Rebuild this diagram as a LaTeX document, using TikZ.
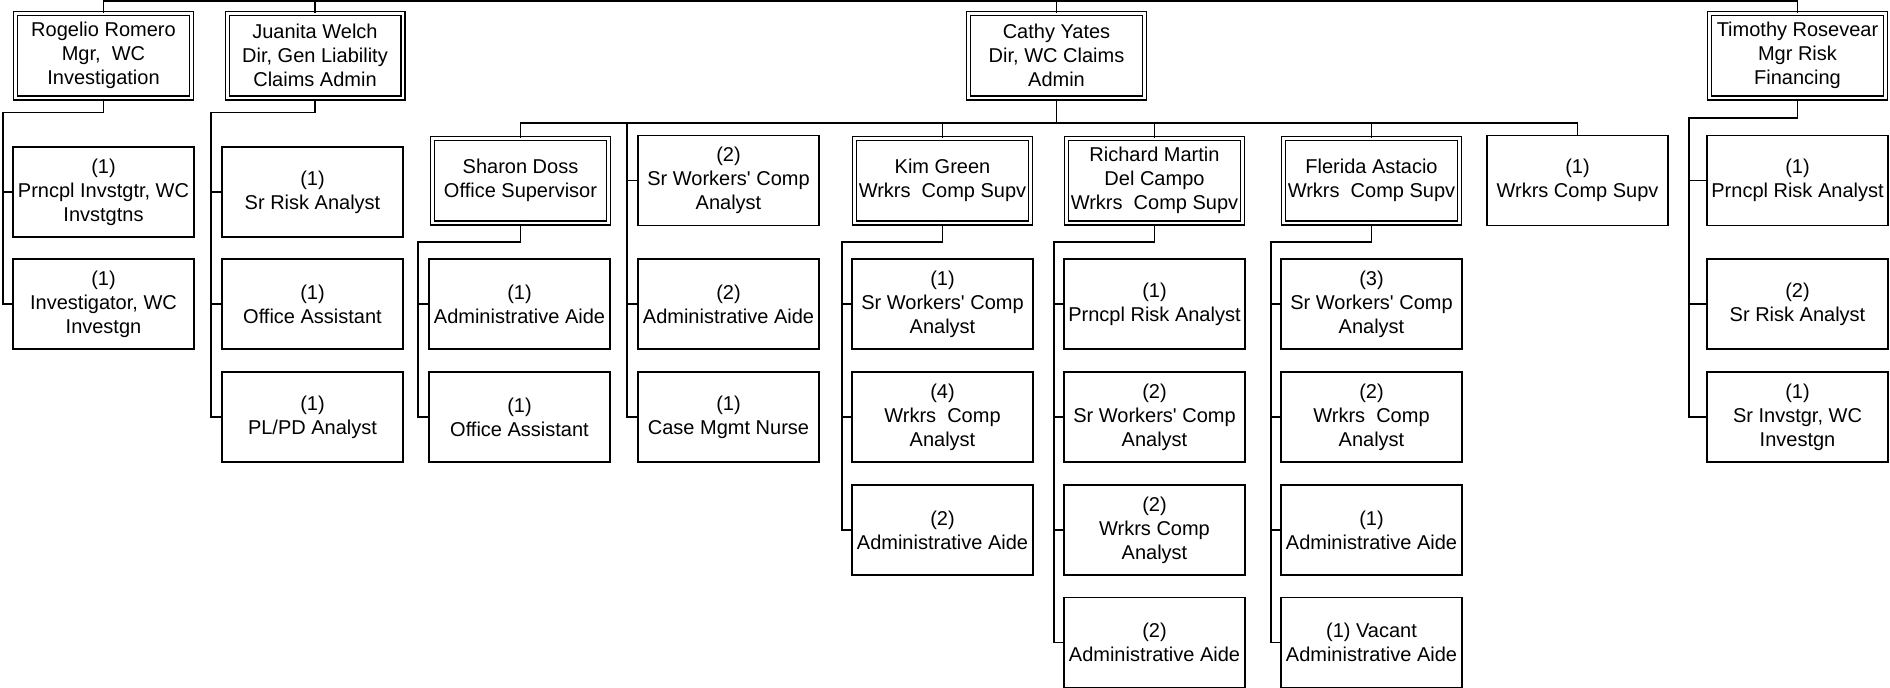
\documentclass[tikz,border=0pt]{standalone}
\usepackage{fontspec}
\setmainfont{Liberation Sans}
\tikzset{
  post/.style={draw, line width=1.6pt, minimum width=181pt, minimum height=90pt,
    inner sep=0pt, align=center, font=\fontsize{20pt}{24pt}\selectfont},
  head/.style={post, double, line width=1.2pt, double distance=2.8pt,
    minimum width=175.8pt, minimum height=84.8pt},
  link/.style={line width=1.7pt},
}
\begin{document}
\begin{tikzpicture}[x=1pt,y=-1pt]
  \fill[white] (0,0) rectangle (1890,688);
  \useasboundingbox (0,0) rectangle (1890,688);

  % level 0
  \node[head] (romero) at (103.5,55.5) {Rogelio Romero\\Mgr,~ WC\\Investigation};
  \node[head] (welch) at (315,55.5) {Juanita Welch\\Dir, Gen Liability\\Claims Admin};
  \node[head] (yates) at (1056.5,55.5) {Cathy Yates\\Dir, WC Claims\\Admin};
  \node[head] (rosevear) at (1797.5,55.5) {Timothy Rosevear\\Mgr Risk\\Financing};

  % level 1, romero
  \node[post] (romero1) at (103.5,192) {(1)\\Prncpl Invstgtr, WC\\Invstgtns};
  \node[post] (romero2) at (103.5,304) {(1)\\Investigator, WC\\Investgn};
  % level 1, welch
  \node[post] (welch1) at (312.5,192) {(1)\\Sr Risk Analyst};
  \node[post] (welch2) at (312.5,304) {(1)\\Office Assistant};
  \node[post] (welch3) at (312.5,417) {(1)\\PL/PD Analyst};
  % level 1, yates
  \node[head] (doss) at (520.5,180.5) {Sharon Doss\\Office Supervisor};
  \node[post] (yates1) at (728.5,180.5) {(2)\\Sr Workers\textquotesingle{} Comp\\Analyst};
  \node[post] (yates2) at (728.5,304) {(2)\\Administrative Aide};
  \node[post] (yates3) at (728.5,417) {(1)\\Case Mgmt Nurse};
  \node[head] (green) at (942.5,180.5) {Kim Green\\Wrkrs~ Comp Supv};
  \node[head] (martin) at (1154.5,180.5) {Richard Martin\\Del Campo\\Wrkrs~ Comp Supv};
  \node[head] (astacio) at (1371.5,180.5) {Flerida Astacio\\Wrkrs~ Comp Supv};
  \node[post] (yates4) at (1577.5,180.5) {(1)\\Wrkrs Comp Supv};
  % level 1, rosevear
  \node[post] (rosevear1) at (1797.5,180.5) {(1)\\Prncpl Risk Analyst};
  \node[post] (rosevear2) at (1797.5,304) {(2)\\Sr Risk Analyst};
  \node[post] (rosevear3) at (1797.5,417) {(1)\\Sr Invstgr, WC\\Investgn};

  % level 2, doss
  \node[post] (doss1) at (519.5,304) {(1)\\Administrative Aide};
  \node[post] (doss2) at (519.5,417) {(1)\\Office Assistant};
  % level 2, green
  \node[post] (green1) at (942.5,304) {(1)\\Sr Workers\textquotesingle{} Comp\\Analyst};
  \node[post] (green2) at (942.5,417) {(4)\\Wrkrs~ Comp\\Analyst};
  \node[post] (green3) at (942.5,530) {(2)\\Administrative Aide};
  % level 2, martin
  \node[post] (martin1) at (1154.5,304) {(1)\\Prncpl Risk Analyst};
  \node[post] (martin2) at (1154.5,417) {(2)\\Sr Workers\textquotesingle{} Comp\\Analyst};
  \node[post] (martin3) at (1154.5,530) {(2)\\Wrkrs Comp\\Analyst};
  \node[post] (martin4) at (1154.5,642.5) {(2)\\Administrative Aide};
  % level 2, astacio
  \node[post] (astacio1) at (1371.5,304) {(3)\\Sr Workers\textquotesingle{} Comp\\Analyst};
  \node[post] (astacio2) at (1371.5,417) {(2)\\Wrkrs~ Comp\\Analyst};
  \node[post] (astacio3) at (1371.5,530) {(1)\\Administrative Aide};
  \node[post] (astacio4) at (1371.5,642.5) {(1) Vacant\\Administrative Aide};

  % bus corners
  \coordinate (rail) at (0,1);
  \coordinate (romero-bus) at (3,112.5);
  \coordinate (welch-bus) at (211,112.5);
  \coordinate (rosevear-bus) at (1689,118);
  \coordinate (yates-bus) at (520.5,123);
  \coordinate (yates-col) at (627,123);
  \coordinate (doss-bus) at (418,242);
  \coordinate (green-bus) at (842,242);
  \coordinate (martin-bus) at (1054,242);
  \coordinate (astacio-bus) at (1271,242);

  % level 0
  \draw[link] (romero.north) |- (rosevear.north |- rail) -- (rosevear.north);
  \draw[link] (welch.north) -- (welch.north |- rail);
  \draw[link] (yates.north) -- (yates.north |- rail);

  % level 1
  \draw[link] (romero.south) |- (romero-bus) |- (romero2.west);
  \draw[link] (romero1.west) -- (romero1.west -| romero-bus);
  \draw[link] (welch.south) |- (welch-bus) |- (welch3.west);
  \foreach \s in {welch1,welch2}
    \draw[link] (\s.west) -- (\s.west -| welch-bus);
  \draw[link] (rosevear.south) |- (rosevear-bus) |- (rosevear3.west);
  \foreach \s in {rosevear1,rosevear2}
    \draw[link] (\s.west) -- (\s.west -| rosevear-bus);
  \draw[link] (yates.south) -- (yates.south |- yates-bus);
  \draw[link] (doss.north) |- (yates4.north |- yates-bus) -- (yates4.north);
  \foreach \s in {green,martin,astacio}
    \draw[link] (\s.north) -- (\s.north |- yates-bus);
  \draw[link] (yates-col) |- (yates3.west);
  \foreach \s in {yates1,yates2}
    \draw[link] (\s.west) -- (\s.west -| yates-col);

  % level 2
  \draw[link] (doss.south) |- (doss-bus) |- (doss2.west);
  \draw[link] (doss1.west) -- (doss1.west -| doss-bus);
  \draw[link] (green.south) |- (green-bus) |- (green3.west);
  \foreach \s in {green1,green2}
    \draw[link] (\s.west) -- (\s.west -| green-bus);
  \draw[link] (martin.south) |- (martin-bus) |- (martin4.west);
  \foreach \s in {martin1,martin2,martin3}
    \draw[link] (\s.west) -- (\s.west -| martin-bus);
  \draw[link] (astacio.south) |- (astacio-bus) |- (astacio4.west);
  \foreach \s in {astacio1,astacio2,astacio3}
    \draw[link] (\s.west) -- (\s.west -| astacio-bus);
\end{tikzpicture}
\end{document}
